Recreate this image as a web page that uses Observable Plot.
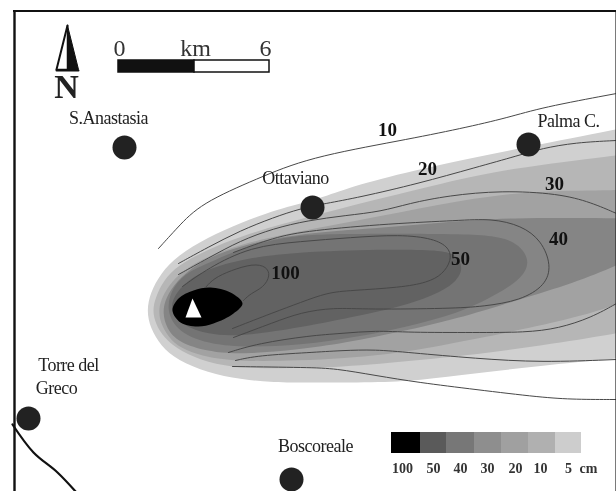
<!DOCTYPE html>
<html>
<head>
<meta charset="utf-8">
<style>
html,body{margin:0;padding:0;background:#fff;overflow:hidden}
svg{display:block;filter:blur(0.45px)}
.town-label text{letter-spacing:-0.5px}
</style>
<script src="https://cdn.jsdelivr.net/npm/d3@7"></script>
<script src="https://cdn.jsdelivr.net/npm/@observablehq/plot@0.6"></script>
</head>
<body>
<div id="chart"></div>
<script>
// Thickness bands, map units, outermost first
const band5 = [[660,120],[616,129],[528,146],[430,166],[361,183],[325,196],[300,203],[280,208],[240,222],[207,237],[177,255],[160,273],[150,292],[146,310],[150,328],[160,345],[177,360],[207,372],[240,379],[273,382],[308,382],[375,382],[418,380],[475,373],[541,365],[616,358],[660,354]];
const band10 = [[660,149],[616,155],[508,168],[441,183],[380,198],[325,212],[283,223],[240,236],[207,249],[177,265],[163,280],[155,297],[152,310],[155,323],[163,337],[180,351],[207,362],[240,368],[308,368],[375,364],[468,355],[541,345],[616,333],[660,325]];
const band20 = [[660,188],[616,190],[541,190],[475,197],[400,212],[325,226],[283,234],[240,244],[207,256],[182,270],[168,285],[160,300],[158,312],[161,325],[170,340],[185,350],[207,357],[240,361],[300,360],[341,358],[398,353],[468,340],[575,318],[616,304],[660,290]];
const band30 = [[660,217],[616,218],[508,217],[441,222],[385,227],[310,232],[262,240],[225,250],[197,263],[176,280],[165,298],[162,312],[166,328],[178,342],[207,351],[240,354],[300,349],[341,343],[408,330],[475,313],[515,300],[575,282],[616,265],[660,245]];
const band40 = [[530,257],[524,277],[491,297],[457,313],[408,326],[360,336],[300,345],[240,347],[207,343],[178,332],[165,310],[172,285],[190,270],[207,263],[240,248],[283,236],[330,233],[475,233],[512,238]];
const band50 = [[463,267],[456,282],[433,295],[400,306],[360,315],[300,327],[240,336],[207,334],[182,325],[168,310],[176,290],[197,272],[240,258],[310,250],[441,248],[456,255]];
const band100 = [[172,310],[178,298],[193,290],[210,287],[230,292],[242,303],[233,313],[213,323],[197,326],[180,322]];
const vent = [[192,298],[201,317],[185,317]];

// Isopach contour lines
const iso10a = [[158,248],[177,227],[200,203],[257,178],[308,157],[401,140],[461,128],[508,117],[541,107],[616,93]];
const iso10b = [[232,366],[308,367],[335,368],[375,375],[418,382],[475,389],[541,397],[575,399],[616,399]];
const iso20a = [[178,263],[207,247],[240,230],[273,217],[300,208],[325,203],[358,197],[418,183],[475,167],[518,155],[541,148],[575,142],[616,140]];
const iso20b = [[235,360],[257,355],[310,352],[341,350],[375,349],[408,352],[475,358],[541,362],[616,359]];
const iso30a = [[178,274],[207,258],[240,240],[273,228],[307,220],[345,215],[381,211],[408,203],[448,195],[501,190],[558,193],[591,202],[616,213]];
const iso30b = [[228,352],[257,343],[310,335],[341,333],[375,330],[408,332],[475,332],[525,332],[558,328],[591,317],[616,303]];
const iso40 = [[233,252],[273,237],[308,230],[391,223],[458,220],[491,218],[521,225],[541,240],[551,265],[545,285],[520,300],[483,306],[450,308],[367,309],[333,307],[300,312],[273,322],[233,337]];
const iso50 = [[182,286],[207,268],[250,246],[300,241],[350,237],[400,234],[433,238],[449,247],[451,260],[442,274],[427,282],[400,287],[350,290],[327,292],[300,302],[273,312],[232,328]];
const iso100 = [[205,287],[213,278],[230,270],[253,263],[266,266],[270,275],[263,287],[250,293],[243,300]];
const coast = [[12,424],[33,452],[57,472],[76,492]];

const bandList = [band5, band10, band20, band30, band40, band50];
const bandColors = ["#d0d0d0","#b6b6b6","#a2a2a2","#858585","#747474","#626262"];
const isoList = [iso10a, iso10b, iso20a, iso20b, iso30a, iso30b, iso40, iso50, iso100];

const towns = [
  {x:124,y:147},{x:312,y:207},{x:528,y:144},{x:28,y:418},{x:291,y:479}
];
const townLabels = [
  {x:108,y:118,t:"S.Anastasia"},
  {x:295,y:178,t:"Ottaviano"},
  {x:568,y:121,t:"Palma C."},
  {x:68,y:365,t:"Torre del"},
  {x:56,y:388,t:"Greco"},
  {x:315,y:446,t:"Boscoreale"}
];
const isoLabels = [
  {x:387,y:129,t:"10"},{x:427,y:168,t:"20"},{x:554,y:183,t:"30"},
  {x:558,y:238,t:"40"},{x:460,y:258,t:"50"},{x:285,y:272,t:"100"}
];

// Legend
const legendEdges = [391,420,446,474,501,528,555,581];
const legendColors = ["#000000","#5a5a5a","#777777","#8e8e8e","#a0a0a0","#b0b0b0","#cdcdcd"];
const legendTicks = [
  {x:402,t:"100"},{x:433,t:"50"},{x:460,t:"40"},{x:487,t:"30"},
  {x:515,t:"20"},{x:540,t:"10"},{x:568,t:"5"},{x:588,t:"cm"}
];
const legendCells = legendColors.map((c,i)=>({x1:legendEdges[i],x2:legendEdges[i+1],c}));

// Scale bar and north arrow
const scaleLabels = [{x:119,t:"0"},{x:195,t:"km"},{x:265,t:"6"}];
const scaleSegments = [{x1:118,x2:194,c:"#111"},{x1:194,x2:269,c:"#fff"}];
const arrowLeft = [[67,25],[67,69],[56,69]];
const arrowRight = [[67,25],[78,69],[67,69]];

const X = d=>d[0], Y = d=>d[1];
const serif = "Liberation Serif";

const plot = Plot.plot({
  width:616, height:491, margin:0,
  x:{domain:[0,616],axis:null},
  y:{domain:[491,0],axis:null},
  style:{background:"#fff"},
  marks:[
    ...bandList.map((b,i)=>Plot.line(b,{x:X,y:Y,fill:bandColors[i],stroke:"none",curve:"basis-closed"})),
    Plot.line(band100,{x:X,y:Y,fill:"#000",stroke:"none",curve:"catmull-rom-closed"}),
    ...isoList.map(l=>Plot.line(l,{x:X,y:Y,stroke:"#484848",strokeWidth:1,curve:"basis"})),
    Plot.line(vent,{x:X,y:Y,fill:"#fff",stroke:"none",curve:"linear"}),
    Plot.line(coast,{x:X,y:Y,stroke:"#111",strokeWidth:2.2,curve:"catmull-rom"}),
    // frame
    Plot.ruleX([14],{y1:10,y2:491,stroke:"#111",strokeWidth:2.4}),
    Plot.ruleX([615.5],{y1:10,y2:491,stroke:"#222",strokeWidth:1.2}),
    Plot.ruleY([10.5],{x1:13,x2:616,stroke:"#111",strokeWidth:2.2}),
    // towns
    Plot.dot(towns,{x:"x",y:"y",r:12,fill:"#222",stroke:"none"}),
    Plot.text(townLabels,{x:"x",y:"y",text:"t",fontFamily:serif,fontSize:18,fill:"#222",className:"town-label"}),
    Plot.text(isoLabels,{x:"x",y:"y",text:"t",fontFamily:serif,fontWeight:"bold",fontSize:19,fill:"#111"}),
    // legend
    Plot.rect(legendCells,{x1:"x1",x2:"x2",y1:432,y2:453,fill:"c"}),
    Plot.text(legendTicks,{x:"x",y:468,text:"t",fontFamily:serif,fontWeight:"bold",fontSize:14,fill:"#333"}),
    // scale bar
    Plot.rect(scaleSegments,{x1:"x1",x2:"x2",y1:60,y2:72,fill:"c",stroke:"#111",strokeWidth:1.5}),
    Plot.text(scaleLabels,{x:"x",y:48,text:"t",fontFamily:serif,fontSize:24,fill:"#333"}),
    // north arrow
    Plot.line(arrowLeft,{x:X,y:Y,fill:"#fff",stroke:"#111",strokeWidth:1.5,curve:"linear"}),
    Plot.line(arrowRight,{x:X,y:Y,fill:"#111",stroke:"#111",strokeWidth:1,curve:"linear"}),
    Plot.line([[56,69],[67,25]],{x:X,y:Y,stroke:"#111",strokeWidth:2,curve:"linear"}),
    Plot.line([[56,70],[78,70]],{x:X,y:Y,stroke:"#111",strokeWidth:2,curve:"linear"}),
    Plot.text(["N"],{x:66,y:87,text:d=>d,fontFamily:serif,fontWeight:"bold",fontSize:34,fill:"#222"})
  ]
});
document.getElementById("chart").appendChild(plot);
</script>
</body>
</html>
